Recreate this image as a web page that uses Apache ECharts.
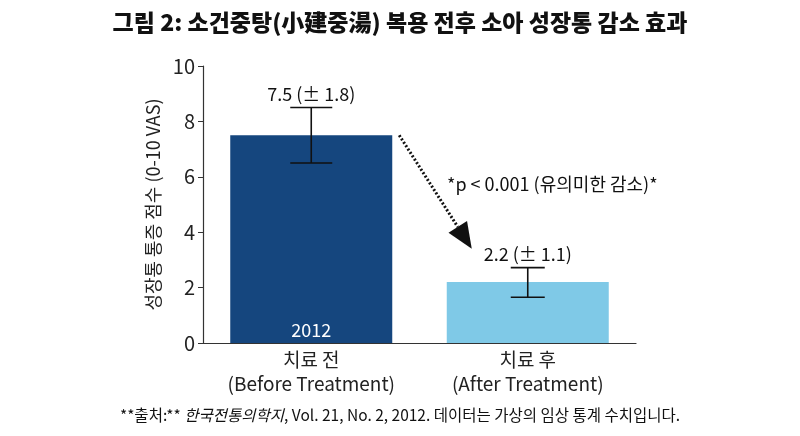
<!DOCTYPE html>
<html>
<head>
<meta charset="utf-8">
<script src="https://cdn.jsdelivr.net/npm/echarts@6/dist/echarts.min.js"></script>
<style>
  html, body { margin: 0; padding: 0; background: #fff; }
  #chart { width: 800px; height: 436px; }
</style>
</head>
<body>
<div id="chart"></div>
<script>
var categories = ['치료 전\n(Before Treatment)', '치료 후\n(After Treatment)'];
var scores = [7.5, 2.2];
var sdLabels = ['± 1.8', '± 1.1'];
var errLow = [6.5, 1.65];
var errHigh = [8.5, 2.72];
var barColors = ['#15467e', '#7fc9e7'];
var yTicks = [0, 2, 4, 6, 8, 10];

var font = '"Noto Sans CJK KR", "Noto Sans", sans-serif';
var myChart = echarts.init(document.getElementById('chart'));

var errData = [];
for (var i = 0; i < scores.length; i++) {
  errData.push([i, errLow[i], errHigh[i], scores[i] + ' (' + sdLabels[i] + ')']);
}

var option = {
  backgroundColor: '#fff',
  animation: false,
  title: {
    text: '그림 2: 소건중탕(小建중湯) 복용 전후 소아 성장통 감소 효과',
    left: 'center',
    top: 6,
    textStyle: { fontFamily: font, fontSize: 23, fontWeight: 900, color: '#111' }
  },
  grid: { left: 203, right: 164, top: 66, bottom: 93 },
  xAxis: {
    type: 'category',
    data: categories,
    axisLine: { lineStyle: { color: '#333', width: 1.2 } },
    axisTick: { alignWithLabel: true, length: 5, lineStyle: { color: '#333' } },
    axisLabel: {
      interval: 0, hideOverlap: false,
      fontFamily: font, fontSize: 19, color: '#222', lineHeight: 24, margin: 5
    }
  },
  yAxis: {
    type: 'value',
    min: yTicks[0],
    max: yTicks[yTicks.length - 1],
    interval: 2,
    name: '성장통 통증 점수 (0-10 VAS)',
    nameLocation: 'middle',
    nameGap: 38,
    nameTextStyle: { fontFamily: font, fontSize: 18, color: '#222' },
    axisLine: { show: true, lineStyle: { color: '#333', width: 1.2 } },
    axisTick: { show: true, length: 5, lineStyle: { color: '#333' } },
    splitLine: { show: false },
    axisLabel: { fontFamily: font, fontSize: 20, color: '#222', margin: 8 }
  },
  series: [
    {
      type: 'bar',
      barWidth: 162,
      data: scores.map(function (v, i) {
        return {
          value: v,
          itemStyle: { color: barColors[i] },
          label: i === 0 ? {
            show: true, position: 'insideBottom', distance: 4,
            formatter: '2012', color: '#fff', fontFamily: font, fontSize: 18
          } : { show: false }
        };
      })
    },
    {
      type: 'custom',
      data: errData,
      z: 10,
      renderItem: function (params, api) {
        var x = api.coord([api.value(0), 0])[0];
        var lo = api.coord([api.value(0), api.value(1)])[1];
        var hi = api.coord([api.value(0), api.value(2)])[1];
        var half = params.dataIndex === 0 ? 21 : 17;
        var st = { stroke: '#111', lineWidth: 1.6 };
        return {
          type: 'group',
          children: [
            { type: 'line', shape: { x1: x, y1: lo, x2: x, y2: hi }, style: st },
            { type: 'line', shape: { x1: x - half, y1: lo, x2: x + half, y2: lo }, style: st },
            { type: 'line', shape: { x1: x - half, y1: hi, x2: x + half, y2: hi }, style: st },
            {
              type: 'text',
              style: {
                x: x, y: hi - 4, text: api.value(3),
                textAlign: 'center', textVerticalAlign: 'bottom',
                font: '18px ' + font, fill: '#111'
              }
            }
          ]
        };
      }
    }
  ]
};

myChart.setOption(option);

// dotted arrow + significance note, placed from data coordinates
var p0 = myChart.convertToPixel({ gridIndex: 0 }, [0, scores[0]]);
var p1 = myChart.convertToPixel({ gridIndex: 0 }, [1, 3.4]);
var x0 = p0[0] + 88, y0 = p0[1];
var x1 = p1[0] - 56, y1 = p1[1];
var ang = Math.atan2(y1 - y0, x1 - x0);
var hl = 26, hw = 11;
var bx = x1 - hl * Math.cos(ang), by = y1 - hl * Math.sin(ang);
var nx = -Math.sin(ang), ny = Math.cos(ang);

myChart.setOption({
  graphic: [
    {
      type: 'line',
      shape: { x1: x0, y1: y0, x2: bx, y2: by },
      style: { stroke: '#111', lineWidth: 3, lineDash: [2, 2] }
    },
    {
      type: 'polygon',
      shape: { points: [[x1, y1], [bx + nx * hw, by + ny * hw], [bx - nx * hw, by - ny * hw]] },
      style: { fill: '#111' }
    },
    {
      type: 'text',
      left: 447,
      top: 175,
      style: { text: '*p < 0.001 (유의미한 감소)*', font: '18px ' + font, fill: '#111' }
    },
    {
      type: 'text',
      left: 'center',
      top: 407,
      style: {
        text: '{n|**출처:**} {i|한국전통의학지}{n|, Vol. 21, No. 2, 2012. 데이터는 가상의 임상 통계 수치입니다.}',
        rich: {
          n: { fontFamily: font, fontSize: 15.5, fill: '#111' },
          i: { fontFamily: font, fontSize: 15.5, fontStyle: 'italic', fill: '#111' }
        }
      }
    }
  ]
});
</script>
</body>
</html>
